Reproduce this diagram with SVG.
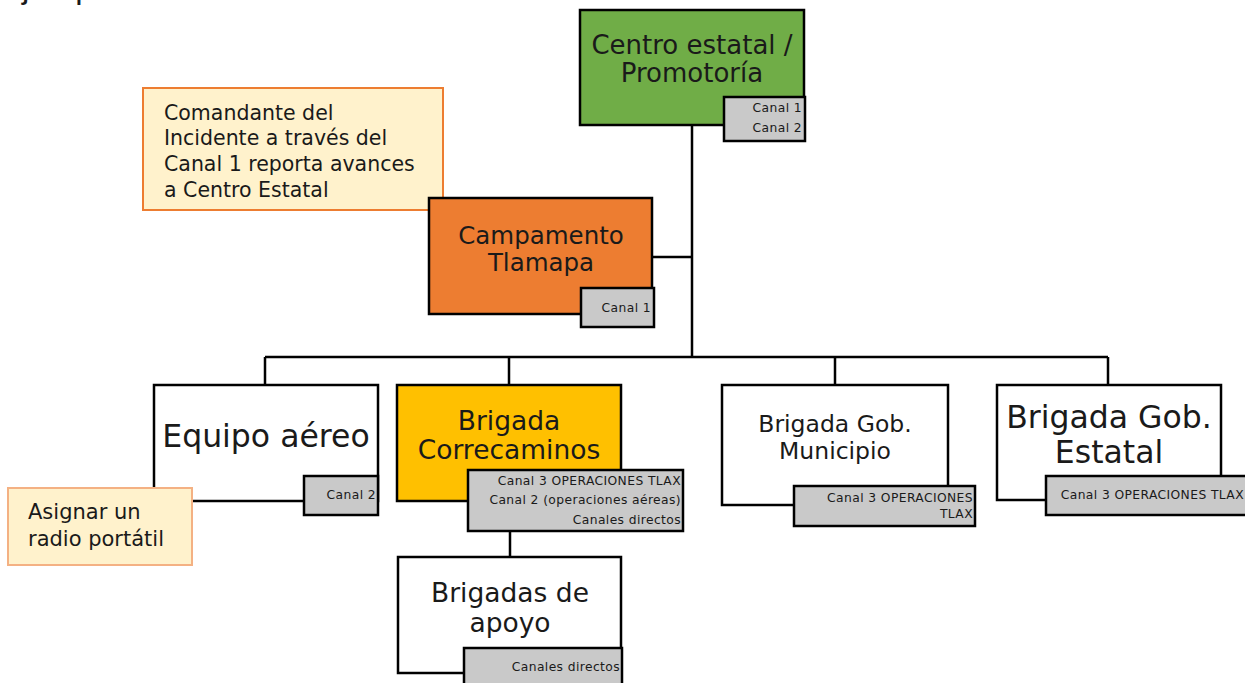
<svg xmlns="http://www.w3.org/2000/svg" width="1245" height="683" viewBox="0 0 1245 683">
<style>
text{font-family:"DejaVu Sans","Liberation Sans",sans-serif;fill:#1a1a1a}
.box{stroke:#000;stroke-width:2.5}
.ch{fill:#c9c9c9;stroke:#000;stroke-width:2.5}
.ct{font-size:12.3px;text-anchor:end;letter-spacing:0.4px}
.t{text-anchor:middle}
.note{fill:#fff2cc;stroke-width:2}
.conn{stroke:#000;stroke-width:2.5;fill:none}
</style>
<rect width="1245" height="683" fill="#fff"/>
<text x="0" y="-2" style="font-family:'Liberation Sans',sans-serif;font-size:33px">Ejemplo</text>
<g id="connectors">
<path class="conn" d="M692 125V358M652 257H692M265 357H1108M265 357V385M509 357V385M835 357V385M1108 357V385M510 531V557"/>
</g>
<g id="centro">
<rect class="box" x="580" y="10" width="224" height="115" fill="#70ad47"/>
<text class="t" x="692" y="54" font-size="26">Centro estatal /</text>
<text class="t" x="692" y="82" font-size="26">Promotoría</text>
<rect class="ch" x="724" y="97" width="81" height="44"/>
<text class="ct" x="802" y="112">Canal 1</text>
<text class="ct" x="802" y="132">Canal 2</text>
</g>
<g id="nota-comandante">
<rect class="note" x="143" y="88" width="300" height="122" stroke="#ed7d31"/>
<text x="164" y="120" font-size="20.5">Comandante del</text>
<text x="164" y="145" font-size="20.5">Incidente a través del</text>
<text x="164" y="171" font-size="20.5">Canal  1 reporta avances</text>
<text x="164" y="197" font-size="20.5">a Centro Estatal</text>
</g>
<g id="campamento">
<rect class="box" x="429" y="198" width="223" height="116" fill="#ed7d31"/>
<text class="t" x="541" y="244" font-size="24.5">Campamento</text>
<text class="t" x="541" y="271" font-size="24.5">Tlamapa</text>
<rect class="ch" x="581" y="288" width="73" height="39"/>
<text class="ct" x="651" y="312">Canal  1</text>
</g>
<g id="equipo-aereo">
<rect class="box" x="154" y="385" width="224" height="116" fill="#fff"/>
<text class="t" x="266" y="447" font-size="31.5">Equipo aéreo</text>
<rect class="ch" x="304" y="476" width="74" height="39"/>
<text class="ct" x="376" y="499">Canal 2</text>
</g>
<g id="nota-asignar">
<rect class="note" x="8" y="488" width="184" height="77" stroke="#f4b183"/>
<text x="28" y="519" font-size="21">Asignar un</text>
<text x="28" y="546" font-size="21">radio portátil</text>
</g>
<g id="correcaminos">
<rect class="box" x="397" y="385" width="224" height="116" fill="#ffc000"/>
<text class="t" x="509" y="430" font-size="26.5">Brigada</text>
<text class="t" x="509" y="459" font-size="26.5">Correcaminos</text>
<rect class="ch" x="468" y="470" width="215" height="61"/>
<text class="ct" x="681" y="485">Canal 3 OPERACIONES TLAX</text>
<text class="ct" x="681" y="504">Canal 2 (operaciones aéreas)</text>
<text class="ct" x="681" y="524">Canales directos</text>
</g>
<g id="brigadas-apoyo">
<rect class="box" x="398" y="557" width="223" height="116" fill="#fff"/>
<text class="t" x="510" y="602" font-size="26.5">Brigadas de</text>
<text class="t" x="510" y="632" font-size="26.5">apoyo</text>
<rect class="ch" x="464" y="648" width="158" height="40"/>
<text class="ct" x="620" y="671">Canales directos</text>
</g>
<g id="municipio">
<rect class="box" x="722" y="385" width="226" height="120" fill="#fff"/>
<text class="t" x="835" y="432" font-size="23.5">Brigada Gob.</text>
<text class="t" x="835" y="459" font-size="23.5">Municipio</text>
<rect class="ch" x="794" y="486" width="181" height="40"/>
<text class="ct" x="973" y="502">Canal 3 OPERACIONES</text>
<text class="ct" x="973" y="518">TLAX</text>
</g>
<g id="estatal">
<rect class="box" x="997" y="385" width="224" height="115" fill="#fff"/>
<text class="t" x="1109" y="428" font-size="31.5">Brigada Gob.</text>
<text class="t" x="1109" y="463" font-size="31.5">Estatal</text>
<rect class="ch" x="1046" y="476" width="205" height="39"/>
<text class="ct" x="1244" y="499">Canal 3 OPERACIONES TLAX</text>
</g>
</svg>
